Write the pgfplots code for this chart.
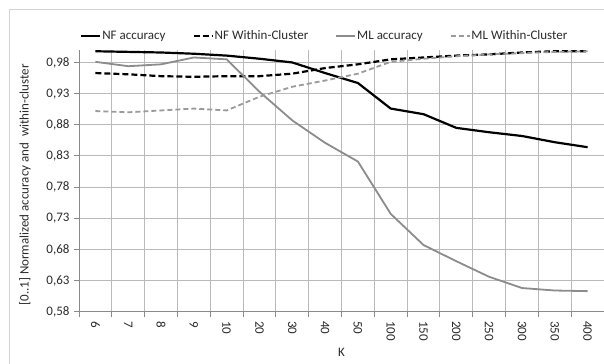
\documentclass[border=0pt]{standalone}
\usepackage{fontspec}
\setmainfont{Carlito}
\usepackage{pgfplots}
\usepackage{pgfplotstable}
\pgfplotsset{compat=1.18}

\definecolor{gridgray}{HTML}{BABABA}
\definecolor{axisgray}{HTML}{8A8A8A}
\definecolor{mlgray}{HTML}{8C8C8C}
\definecolor{mlwgray}{HTML}{9A9A9A}
\definecolor{framegray}{HTML}{D4D4D4}
\definecolor{txt}{HTML}{2A2A2A}

% K index, NF accuracy, NF within-cluster, ML accuracy, ML within-cluster
\pgfplotstableread{
x  nfacc  nfwc   mlacc  mlwc
0  0.998  0.963  0.981  0.902
1  0.997  0.961  0.974  0.900
2  0.996  0.958  0.977  0.903
3  0.994  0.957  0.988  0.906
4  0.991  0.958  0.985  0.903
5  0.986  0.958  0.933  0.925
6  0.980  0.962  0.887  0.941
7  0.963  0.971  0.851  0.951
8  0.947  0.977  0.821  0.962
9  0.906  0.985  0.737  0.981
10 0.897  0.988  0.687  0.986
11 0.875  0.991  0.661  0.990
12 0.868  0.993  0.636  0.993
13 0.862  0.996  0.618  0.995
14 0.852  0.998  0.614  0.997
15 0.844  0.998  0.613  0.998
}\results

\newcommand\chartfont{\fontsize{13bp}{15.5bp}\selectfont}

\begin{document}
\begin{tikzpicture}
\chartfont
% chart area frame
\draw[framegray, line width=1bp] (-69bp,-200bp) rectangle (800bp,301.7bp);
\begin{axis}[
  name=ax,
  at={(0,0)}, anchor=south west,
  scale only axis,
  width=525bp, height=261.7bp,
  xmin=-0.5, xmax=15.5,
  ymin=0.58, ymax=1.0,
  axis x line=bottom, axis y line=left,
  axis line style={-, axisgray, line width=0.9bp},
  tick align=outside,
  xtick={0,...,15},
  xticklabels={6,7,8,9,10,20,30,40,50,100,150,200,250,300,350,400},
  major x tick style={draw=none},
  minor xtick={-0.5,0.5,...,15.5},
  minor tick length=5bp,
  minor x tick style={axisgray, line width=0.9bp},
  xminorgrids=true,
  ytick={0.58,0.63,0.68,0.73,0.78,0.83,0.88,0.93,0.98},
  major tick length=5bp,
  major y tick style={axisgray, line width=0.9bp},
  ymajorgrids=true,
  grid style={gridgray, line width=0.9bp},
  minor grid style={gridgray, line width=0.9bp},
  /pgf/number format/.cd, use comma, fixed, fixed zerofill, precision=2, assume math mode=true,
  /pgfplots/.cd,
  ticklabel style={font=\chartfont, text=txt},
  x tick label style={rotate=-90, anchor=west},
  xlabel={K},
  ylabel={[0..1] Normalized accuracy and\ \ within-cluster},
  every axis x label/.style={at={(axis description cs:0.5,-0.1567)}, anchor=center, font=\chartfont, text=txt},
  every axis y label/.style={at={(axis description cs:-0.1029,0.485)}, anchor=center, rotate=90, font=\chartfont, text=txt},
  legend columns=4,
  legend style={draw=none, fill=none, at={(axis description cs:-0.004,1.0535)}, anchor=west,
    font=\chartfont, text=txt,
    nodes={inner sep=1bp},
    /tikz/every even column/.append style={column sep=26bp}},
  legend cell align=left,
  legend image code/.code={\draw[#1] (0bp,0bp) -- (19bp,0bp);},
]
\addplot[black, line width=2.2bp] table[x=x, y=nfacc] {\results};
\addlegendentry{NF accuracy}
\addplot[black, line width=2.2bp, dash pattern=on 6bp off 3bp] table[x=x, y=nfwc] {\results};
\addlegendentry{NF Within-Cluster}
\addplot[mlgray, line width=1.8bp] table[x=x, y=mlacc] {\results};
\addlegendentry{ML accuracy}
\addplot[mlwgray, line width=1.8bp, dash pattern=on 5bp off 3bp] table[x=x, y=mlwc] {\results};
\addlegendentry{ML Within-Cluster}
\end{axis}
\pgfresetboundingbox
\useasboundingbox (-79bp,-52.3bp) rectangle (525bp,311.7bp);
\end{tikzpicture}
\end{document}
